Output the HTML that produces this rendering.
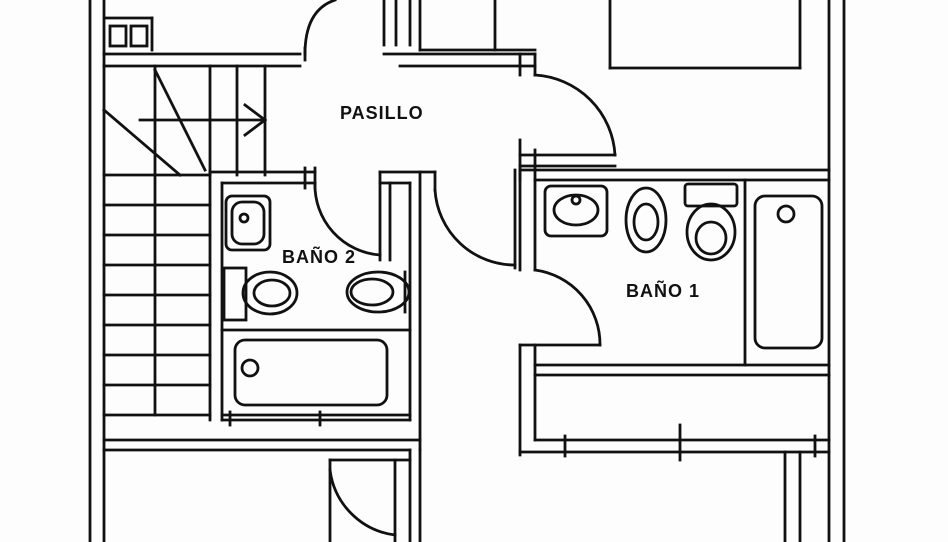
<!DOCTYPE html>
<html><head><meta charset="utf-8"><style>
html,body{margin:0;padding:0;background:#fff;width:948px;height:542px;overflow:hidden}
svg{display:block}
text{font-family:"Liberation Sans",sans-serif;font-size:18px;font-weight:bold;fill:#111;letter-spacing:1px}
</style></head><body>
<svg width="948" height="542" viewBox="0 0 948 542" xmlns="http://www.w3.org/2000/svg">
<rect width="948" height="542" fill="#fdfdfd"/>
<g stroke="#111" stroke-width="2.8" fill="none" stroke-linecap="square">
<line x1="90" y1="0" x2="90" y2="542"/><line x1="104" y1="0" x2="104" y2="542"/>
<line x1="829" y1="0" x2="829" y2="542"/><line x1="844" y1="0" x2="844" y2="542"/>
<line x1="104" y1="54" x2="300" y2="54"/><line x1="104" y1="66" x2="300" y2="66"/>
<rect x="110" y="26" width="16" height="20"/><rect x="131" y="26" width="16" height="20"/>
<line x1="106" y1="18" x2="152" y2="18"/><line x1="152" y1="18" x2="152" y2="50"/>
<line x1="384" y1="0" x2="384" y2="45"/><line x1="396" y1="0" x2="396" y2="45"/><line x1="410" y1="0" x2="410" y2="45"/><line x1="420" y1="0" x2="420" y2="50"/>
<line x1="495" y1="0" x2="495" y2="50"/>
<line x1="384" y1="54" x2="535" y2="54"/><line x1="400" y1="66" x2="535" y2="66"/>
<line x1="420" y1="50" x2="535" y2="50"/>
<line x1="520" y1="54" x2="520" y2="75"/><line x1="535" y1="54" x2="535" y2="75"/>
<line x1="610" y1="0" x2="610" y2="68"/><line x1="610" y1="68" x2="800" y2="68"/><line x1="800" y1="0" x2="800" y2="68"/>
<path d="M305 54 Q305 10 335 0"/>
<line x1="305" y1="48" x2="305" y2="60"/>
<path d="M535 75 A85 85 0 0 1 615 155"/>
<line x1="520" y1="155" x2="615" y2="155"/><line x1="520" y1="166" x2="615" y2="166"/>
<line x1="520" y1="140" x2="520" y2="180"/><line x1="535" y1="150" x2="535" y2="180"/>
<line x1="155" y1="66" x2="155" y2="415"/>
<line x1="210" y1="66" x2="210" y2="175"/><line x1="237" y1="66" x2="237" y2="175"/><line x1="265" y1="66" x2="265" y2="175"/>
<line x1="155" y1="70" x2="205" y2="170"/><line x1="104" y1="110" x2="180" y2="175"/>
<line x1="140" y1="120" x2="265" y2="120"/><path d="M245 105 L265 120 L245 135"/>
<g>
<line x1="104" y1="175" x2="210" y2="175"/><line x1="104" y1="205" x2="210" y2="205"/>
<line x1="104" y1="235" x2="210" y2="235"/><line x1="104" y1="265" x2="210" y2="265"/>
<line x1="104" y1="295" x2="210" y2="295"/><line x1="104" y1="325" x2="210" y2="325"/>
<line x1="104" y1="355" x2="210" y2="355"/><line x1="104" y1="385" x2="210" y2="385"/>
<line x1="104" y1="415" x2="210" y2="415"/>
</g>
<line x1="210" y1="172" x2="315" y2="172"/><line x1="222" y1="183" x2="315" y2="183"/>
<line x1="305" y1="168" x2="305" y2="188"/><line x1="315" y1="168" x2="315" y2="188"/>
<line x1="210" y1="172" x2="210" y2="420"/><line x1="222" y1="183" x2="222" y2="420"/>
<line x1="380" y1="172" x2="435" y2="172"/><line x1="380" y1="183" x2="410" y2="183"/>
<line x1="380" y1="172" x2="380" y2="260"/><line x1="390" y1="183" x2="390" y2="260"/>
<line x1="410" y1="183" x2="410" y2="420"/><line x1="420" y1="172" x2="420" y2="450"/>
<line x1="435" y1="172" x2="435" y2="190"/>
<line x1="222" y1="330" x2="410" y2="330"/>
<line x1="222" y1="415" x2="410" y2="415"/><line x1="222" y1="420" x2="410" y2="420"/>
<line x1="230" y1="412" x2="230" y2="425"/><line x1="320" y1="412" x2="320" y2="425"/>
<path d="M315 183 A70 70 0 0 0 380 255"/>
<path d="M435 190 A80 80 0 0 0 515 265"/>
<line x1="515" y1="170" x2="515" y2="268"/>
<rect x="226" y="196" width="44" height="54" rx="6"/><rect x="232" y="202" width="32" height="42" rx="10"/>
<circle cx="244" cy="218" r="4"/>
<rect x="224" y="268" width="22" height="52"/>
<ellipse cx="270" cy="293" rx="27" ry="21"/><ellipse cx="272" cy="293" rx="18" ry="13"/>
<ellipse cx="378" cy="292" rx="31" ry="20"/><ellipse cx="372" cy="292" rx="21" ry="13"/>
<line x1="405" y1="272" x2="405" y2="312"/>
<rect x="235" y="340" width="152" height="65" rx="10"/>
<circle cx="250" cy="368" r="8"/>
<line x1="520" y1="170" x2="829" y2="170"/><line x1="535" y1="180" x2="829" y2="180"/>
<line x1="520" y1="170" x2="520" y2="270"/><line x1="535" y1="180" x2="535" y2="270"/>
<path d="M535 270 A75 75 0 0 1 600 345"/>
<line x1="520" y1="345" x2="600" y2="345"/>
<line x1="520" y1="345" x2="520" y2="455"/><line x1="535" y1="345" x2="535" y2="440"/>
<line x1="745" y1="180" x2="745" y2="365"/>
<line x1="535" y1="365" x2="829" y2="365"/><line x1="535" y1="375" x2="829" y2="375"/>
<rect x="545" y="186" width="62" height="50" rx="6"/><ellipse cx="576" cy="210" rx="22" ry="15"/><circle cx="576" cy="200" r="4"/>
<ellipse cx="646" cy="220" rx="20" ry="32"/><ellipse cx="646" cy="222" rx="12" ry="18"/>
<rect x="685" y="184" width="52" height="22" rx="3"/>
<ellipse cx="711" cy="232" rx="24" ry="28"/><ellipse cx="711" cy="238" rx="15" ry="16"/>
<rect x="755" y="196" width="67" height="152" rx="10"/>
<circle cx="786" cy="214" r="8"/>
<line x1="535" y1="440" x2="829" y2="440"/><line x1="520" y1="452" x2="829" y2="452"/>
<line x1="565" y1="436" x2="565" y2="456"/><line x1="680" y1="425" x2="680" y2="460"/><line x1="815" y1="436" x2="815" y2="456"/>
<line x1="785" y1="452" x2="785" y2="542"/><line x1="800" y1="452" x2="800" y2="542"/>
<line x1="104" y1="440" x2="420" y2="440"/><line x1="104" y1="450" x2="410" y2="450"/>
<line x1="330" y1="460" x2="410" y2="460"/><line x1="330" y1="460" x2="330" y2="542"/>
<path d="M330 470 A75 75 0 0 0 395 535"/>
<line x1="395" y1="460" x2="395" y2="542"/><line x1="410" y1="450" x2="410" y2="542"/><line x1="420" y1="450" x2="420" y2="542"/>
</g>
<text x="340" y="119">PASILLO</text>
<text x="282" y="263">BAÑO 2</text>
<text x="626" y="297">BAÑO 1</text>
</svg>
</body></html>
